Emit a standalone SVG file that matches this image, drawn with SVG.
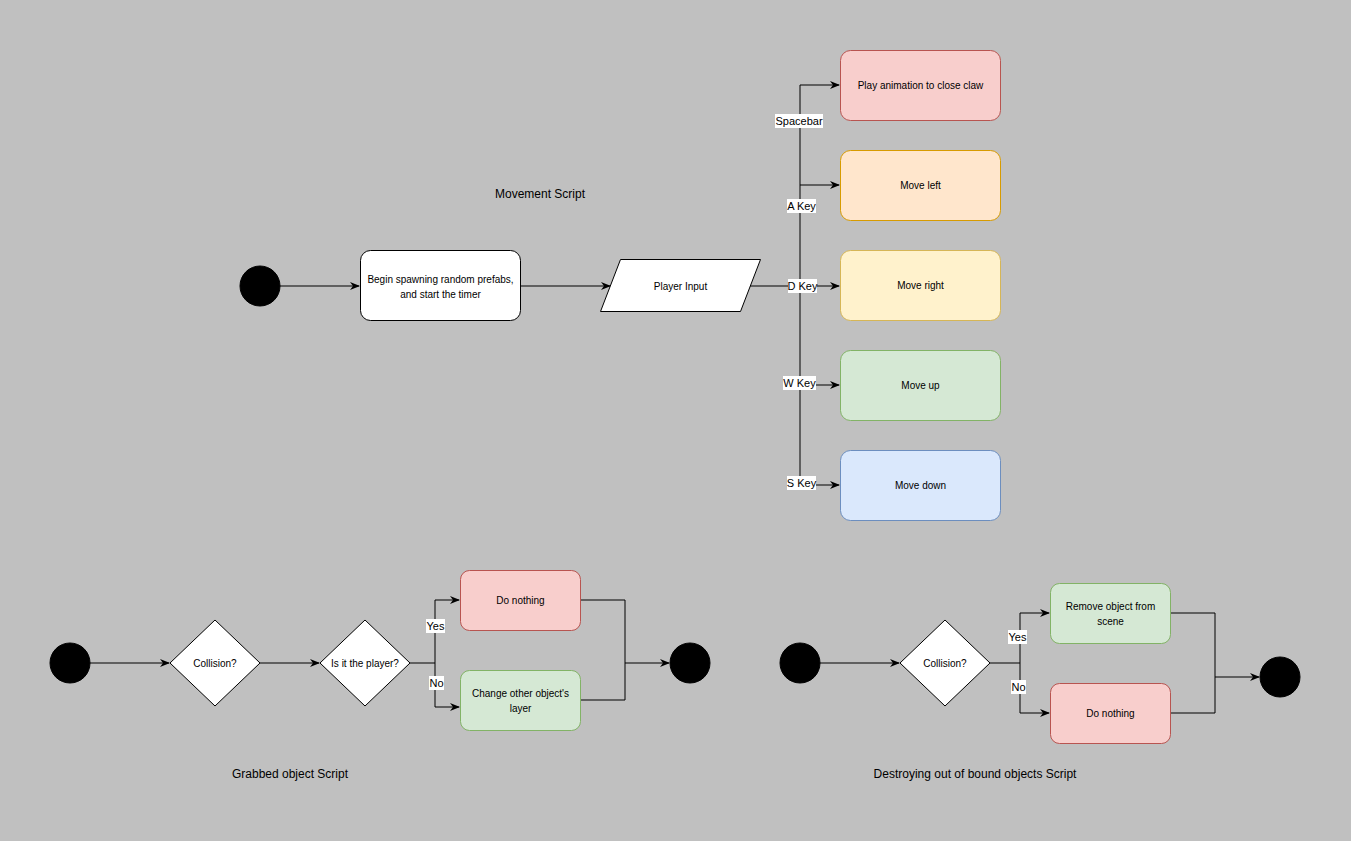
<svg xmlns="http://www.w3.org/2000/svg" width="1351" height="841" viewBox="0 0 1351 841">
<defs>
<marker id="arr" markerWidth="10" markerHeight="8" refX="9" refY="4" orient="auto" markerUnits="userSpaceOnUse">
<path d="M0,0 L10,4 L0,8 L3,4 z" fill="#000"/>
</marker>
<style>
text{font-family:"Liberation Sans",Arial,sans-serif;fill:#000;text-anchor:middle;dominant-baseline:central}
.t10{font-size:10px}
.t11{font-size:11px}
.t12{font-size:12px}
.edge{fill:none;stroke:#000;stroke-width:1}
.arrow{marker-end:url(#arr)}
.dot{fill:#000;stroke:#000}
.white{fill:#fff;stroke:#000;stroke-width:1}
.red{fill:#f8cecc;stroke:#b85450}
.orange{fill:#ffe6cc;stroke:#d79b00}
.yellow{fill:#fff2cc;stroke:#d6b656}
.green{fill:#d5e8d4;stroke:#82b366}
.blue{fill:#dae8fc;stroke:#6c8ebf}
.lbl{fill:#fff;stroke:none}
</style>
</defs>
<rect x="0" y="0" width="1351" height="841" fill="#c0c0c0"/>

<g id="connectors">
<path class="edge arrow" d="M280,286 L359,286"/>
<path class="edge arrow" d="M520,286 L610,286"/>
<path class="edge" d="M750,286 L800,286"/>
<path class="edge" d="M800,85 L800,485"/>
<path class="edge arrow" d="M800,85 L839,85"/>
<path class="edge arrow" d="M800,185 L839,185"/>
<path class="edge arrow" d="M800,286 L839,286"/>
<path class="edge arrow" d="M800,385 L839,385"/>
<path class="edge arrow" d="M800,485 L839,485"/>
<rect class="lbl" x="775" y="114" width="48" height="14"/><text class="t11" x="799" y="121">Spacebar</text>
<rect class="lbl" x="787" y="199" width="29" height="14"/><text class="t11" x="801.5" y="206">A Key</text>
<rect class="lbl" x="788" y="279" width="29" height="14"/><text class="t11" x="802.5" y="286">D Key</text>
<rect class="lbl" x="783" y="376" width="33" height="14"/><text class="t11" x="799.5" y="383">W Key</text>
<rect class="lbl" x="787" y="476" width="29" height="14"/><text class="t11" x="801.5" y="483">S Key</text>

<path class="edge arrow" d="M90,663 L169,663"/>
<path class="edge arrow" d="M260,663 L319,663"/>
<path class="edge" d="M410,663 L435,663"/>
<path class="edge arrow" d="M435,663 L435,600 L459,600"/>
<path class="edge arrow" d="M435,663 L435,707 L459,707"/>
<path class="edge" d="M580,600 L625,600 L625,700 L580,700"/>
<path class="edge arrow" d="M625,663 L669,663"/>
<rect class="lbl" x="426" y="619" width="19" height="14"/><text class="t11" x="435.5" y="626">Yes</text>
<rect class="lbl" x="429" y="676" width="15" height="14"/><text class="t11" x="436.5" y="683">No</text>

<path class="edge arrow" d="M820,663 L899,663"/>
<path class="edge" d="M990,663 L1020,663"/>
<path class="edge arrow" d="M1020,663 L1020,613 L1049,613"/>
<path class="edge arrow" d="M1020,663 L1020,713 L1049,713"/>
<path class="edge" d="M1170,613 L1215,613 L1215,713 L1170,713"/>
<path class="edge arrow" d="M1215,677 L1259,677"/>
<rect class="lbl" x="1008" y="630" width="19" height="14"/><text class="t11" x="1017.5" y="637">Yes</text>
<rect class="lbl" x="1011" y="680" width="15" height="14"/><text class="t11" x="1018.5" y="687">No</text>
</g>

<g id="title-movement"><text class="t12" x="540" y="194">Movement Script</text></g>
<g id="title-grabbed"><text class="t12" x="290" y="774">Grabbed object Script</text></g>
<g id="title-destroy"><text class="t12" x="975" y="774">Destroying out of bound objects Script</text></g>

<g id="start1"><circle class="dot" cx="260" cy="286" r="20"/></g>
<g id="spawn"><rect class="white" x="360.5" y="250.5" width="160" height="70" rx="10"/>
<text class="t10" x="440.5" y="279">Begin spawning random prefabs,</text>
<text class="t10" x="440.5" y="294">and start the timer</text></g>
<g id="input"><polygon class="white" points="620.5,259.5 760.5,259.5 740.5,311.5 600.5,311.5"/>
<text class="t10" x="680.5" y="286">Player Input</text></g>
<g id="claw"><rect class="red" x="840.5" y="50.5" width="160" height="70" rx="10"/><text class="t10" x="920.5" y="85.5">Play animation to close claw</text></g>
<g id="left"><rect class="orange" x="840.5" y="150.5" width="160" height="70" rx="10"/><text class="t10" x="920.5" y="185.5">Move left</text></g>
<g id="right"><rect class="yellow" x="840.5" y="250.5" width="160" height="70" rx="10"/><text class="t10" x="920.5" y="285.5">Move right</text></g>
<g id="up"><rect class="green" x="840.5" y="350.5" width="160" height="70" rx="10"/><text class="t10" x="920.5" y="385.5">Move up</text></g>
<g id="down"><rect class="blue" x="840.5" y="450.5" width="160" height="70" rx="10"/><text class="t10" x="920.5" y="485.5">Move down</text></g>

<g id="start2"><circle class="dot" cx="70" cy="663" r="20"/></g>
<g id="collision1"><polygon class="white" points="215,620 260,663 215,706 170,663"/><text class="t10" x="215" y="663">Collision?</text></g>
<g id="isplayer"><polygon class="white" points="365,620 410,663 365,706 320,663"/><text class="t10" x="365" y="663">Is it the player?</text></g>
<g id="nothing1"><rect class="red" x="460.5" y="570.5" width="120" height="60" rx="9"/><text class="t10" x="520.5" y="600.5">Do nothing</text></g>
<g id="layer"><rect class="green" x="460.5" y="670.5" width="120" height="60" rx="9"/>
<text class="t10" x="520.5" y="693.5">Change other object's</text><text class="t10" x="520.5" y="708.5">layer</text></g>
<g id="end1"><circle class="dot" cx="690" cy="663" r="20"/></g>

<g id="start3"><circle class="dot" cx="800" cy="663" r="20"/></g>
<g id="collision2"><polygon class="white" points="945,620 990,663 945,706 900,663"/><text class="t10" x="945" y="663">Collision?</text></g>
<g id="remove"><rect class="green" x="1050.5" y="583.5" width="120" height="60" rx="9"/>
<text class="t10" x="1110.5" y="606">Remove object from</text><text class="t10" x="1110.5" y="621">scene</text></g>
<g id="nothing2"><rect class="red" x="1050.5" y="683.5" width="120" height="60" rx="9"/><text class="t10" x="1110.5" y="713.5">Do nothing</text></g>
<g id="end2"><circle class="dot" cx="1280" cy="677" r="20"/></g>
</svg>
